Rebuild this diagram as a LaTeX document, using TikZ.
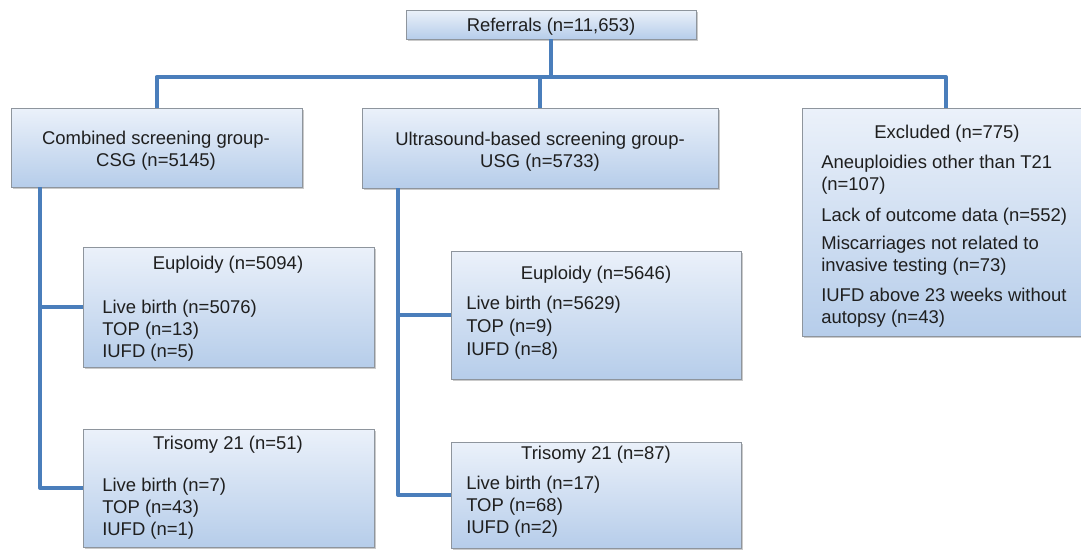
\documentclass[tikz,border=0pt]{standalone}
\usepackage{fontspec}
\setmainfont{Liberation Sans}
\usetikzlibrary{shadows}
\definecolor{boxtop}{HTML}{EBF1FA}
\definecolor{boxbot}{HTML}{B6CDEA}
\definecolor{boxline}{HTML}{8E959D}
\definecolor{connblue}{HTML}{4A7EBB}
\tikzset{
  box/.style={rectangle, draw=boxline, line width=0.6pt, top color=boxtop, bottom color=boxbot,
    inner sep=0pt, outer sep=0pt,
    drop shadow={shadow xshift=1.2pt, shadow yshift=-1.5pt, opacity=0.35, fill=black!60}},
  conn/.style={draw=connblue, line width=3pt, line join=round},
  txt/.style={inner sep=0pt, font=\fontsize{13.85}{16.5}\selectfont, text=black!88},
  lt/.style={txt, anchor=base west},
  ct/.style={txt, anchor=base},
}
\begin{document}
\begin{tikzpicture}[x=0.75pt,y=-0.75pt]
\useasboundingbox (0,0) rectangle (1081,550);
% boxes
\node[box, minimum width=217.5pt, minimum height=21.75pt] (ref) at (551,24.5) {};
\node[box, minimum width=218.25pt, minimum height=59.25pt] (csg) at (156.5,147.5) {};
\node[box, minimum width=267pt, minimum height=60pt] (usg) at (540,148) {};
\node[box, minimum width=216pt, minimum height=171pt] (exc) at (946,222) {};
\node[box, minimum width=218.25pt, minimum height=90pt] (eupC) at (228.5,307) {};
\node[box, minimum width=218.25pt, minimum height=88.5pt] (triC) at (228.5,488) {};
\node[box, minimum width=217.5pt, minimum height=96pt] (eupU) at (596,315) {};
\node[box, minimum width=217.5pt, minimum height=79.5pt] (triU) at (596,495) {};
% connector points
\coordinate (bus) at (551,77);
\coordinate (cTop) at (40,187);
\coordinate (uTop) at (398,188);
% connectors
\draw[conn] (ref.south) -- (bus);
\draw[conn] (csg.north) -- (csg.north |- bus) -- (exc.north |- bus) -- (exc.north);
\draw[conn] (usg.north |- bus) -- (usg.north);
\draw[conn] (cTop) |- (triC.west);
\draw[conn] (cTop |- eupC.west) -- (eupC.west);
\draw[conn] (uTop) |- (triU.west);
\draw[conn] (uTop |- eupU.west) -- (eupU.west);
% texts
\node[ct] (tref) at (551,31.5) {Referrals (n=11,653)};
\node[ct] (tcsg1) at (156,144.5) {Combined screening group-};
\node[ct] (tcsg2) at (156,166.5) {CSG (n=5145)};
\node[ct] (tusg1) at (540,145.5) {Ultrasound-based screening group-};
\node[ct] (tusg2) at (540,167) {USG (n=5733)};
\node[ct] (texc) at (947,138.5) {Excluded (n=775)};
\node[lt] (te1) at (821,168.5) {Aneuploidies other than T21};
\node[lt] (te2) at (821,190) {(n=107)};
\node[lt] (te3) at (821,221.5) {Lack of outcome data (n=552)};
\node[lt] (te4) at (821,249.5) {Miscarriages not related to};
\node[lt] (te5) at (821,271.5) {invasive testing (n=73)};
\node[lt] (te6) at (821,301.5) {IUFD above 23 weeks without};
\node[lt] (te7) at (821,323.5) {autopsy (n=43)};
\node[ct] (tec) at (228,269.5) {Euploidy (n=5094)};
\node[lt] (tec1) at (102,313.5) {Live birth (n=5076)};
\node[lt] (tec2) at (102,335.5) {TOP (n=13)};
\node[lt] (tec3) at (102,357.5) {IUFD (n=5)};
\node[ct] (ttc) at (228,449.5) {Trisomy 21 (n=51)};
\node[lt] (ttc1) at (102,491.5) {Live birth (n=7)};
\node[lt] (ttc2) at (102,513.5) {TOP (n=43)};
\node[lt] (ttc3) at (102,535.5) {IUFD (n=1)};
\node[ct] (teu) at (596,279.5) {Euploidy (n=5646)};
\node[lt] (teu1) at (466,309.5) {Live birth (n=5629)};
\node[lt] (teu2) at (466,332.5) {TOP (n=9)};
\node[lt] (teu3) at (466,355.5) {IUFD (n=8)};
\node[ct] (ttu) at (596,459.5) {Trisomy 21 (n=87)};
\node[lt] (ttu1) at (466,489.5) {Live birth (n=17)};
\node[lt] (ttu2) at (466,511.5) {TOP (n=68)};
\node[lt] (ttu3) at (466,533.5) {IUFD (n=2)};
\end{tikzpicture}
\end{document}
